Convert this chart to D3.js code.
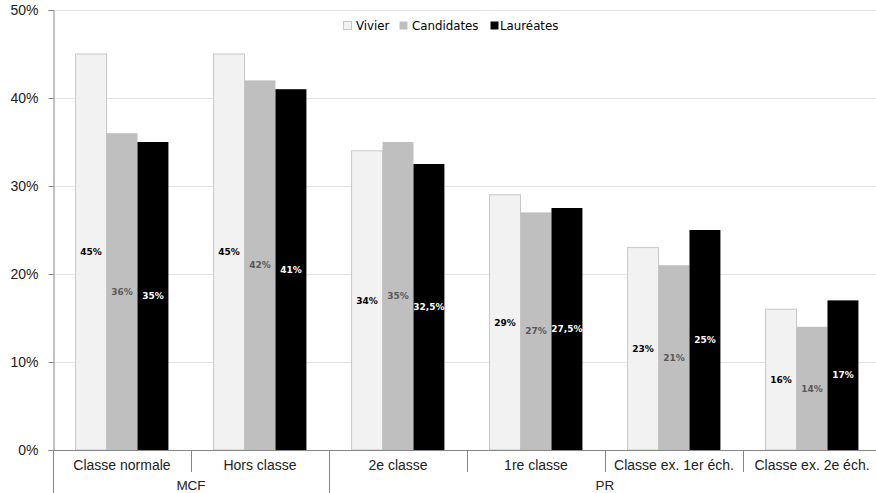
<!DOCTYPE html>
<html>
<head>
<meta charset="utf-8">
<script src="https://cdn.jsdelivr.net/npm/d3@7"></script>
<style>
  html, body { margin: 0; padding: 0; background: #fff; }
  svg { display: block; overflow: hidden; }
</style>
</head>
<body>
<script>
// Part of women among each grade: pool, applicants, and promoted
const categories = ["Classe normale", "Hors classe", "2e classe", "1re classe", "Classe ex. 1er éch.", "Classe ex. 2e éch."];
const groups = [
  { name: "MCF", from: 0, to: 2 },
  { name: "PR", from: 2, to: 6 }
];
const seriesNames = ["Vivier", "Candidates", "Lauréates"];
const vivier = [45, 45, 34, 29, 23, 16];
const candidates = [36, 42, 35, 27, 21, 14];
const laureates = [35, 41, 32.5, 27.5, 25, 17];
const valueLabels = [
  ["45%", "45%", "34%", "29%", "23%", "16%"],
  ["36%", "42%", "35%", "27%", "21%", "14%"],
  ["35%", "41%", "32,5%", "27,5%", "25%", "17%"]
];
const yTicks = [0, 10, 20, 30, 40, 50];

const seriesValues = [vivier, candidates, laureates];
const fills = ["#f2f2f2", "#bfbfbf", "#000000"];
const strokes = ["#c8c8c8", "none", "none"];
const labelColors = ["#000000", "#595959", "#ffffff"];

const W = 876, H = 493;
const plotLeft = 53, plotRight = 881, plotTop = 10, plotBottom = 450;

const svg = d3.select("body").append("svg").attr("width", W).attr("height", H);

const y = d3.scaleLinear().domain([0, 50]).range([plotBottom, plotTop]);
const x0 = d3.scaleBand().domain(categories).range([plotLeft, plotRight]).padding(0);
const x1 = d3.scaleBand().domain(seriesNames).range([0, x0.bandwidth()])
  .paddingInner(0).paddingOuter(0.73);

// horizontal gridlines
svg.append("g").selectAll("line").data(yTicks.filter(t => t > 0)).join("line")
  .attr("x1", plotLeft).attr("x2", W)
  .attr("y1", d => Math.round(y(d)) + 0.5).attr("y2", d => Math.round(y(d)) + 0.5)
  .attr("stroke", "#e3e3e3").attr("stroke-width", 1);

// bars
const bars = svg.append("g");
seriesValues.forEach((vals, si) => {
  bars.append("g").selectAll("rect").data(vals).join("rect")
    .attr("x", (d, i) => x0(categories[i]) + x1(seriesNames[si]))
    .attr("width", x1.bandwidth())
    .attr("y", d => y(d))
    .attr("height", d => y(0) - y(d))
    .attr("fill", fills[si])
    .attr("stroke", strokes[si])
    .attr("stroke-width", 1);
});

// value labels, centred in each bar
seriesValues.forEach((vals, si) => {
  svg.append("g").selectAll("text").data(vals).join("text")
    .attr("x", (d, i) => x0(categories[i]) + x1(seriesNames[si]) + x1.bandwidth() / 2)
    .attr("y", d => (y(d) + y(0)) / 2)
    .attr("dy", "0.35em")
    .attr("text-anchor", "middle")
    .attr("font-family", "DejaVu Sans, Verdana, sans-serif")
    .attr("font-weight", "bold")
    .attr("font-size", 9)
    .attr("fill", labelColors[si])
    .text((d, i) => valueLabels[si][i]);
});

// y axis
const yAxis = d3.axisLeft(y).tickValues(yTicks).tickFormat(d => d + "%").tickSize(5).tickPadding(10);
const gy = svg.append("g").attr("transform", `translate(${plotLeft + 0.5},0)`).call(yAxis);
gy.select(".domain").attr("stroke", "#868686");
gy.selectAll(".tick line").attr("stroke", "#868686");
gy.selectAll(".tick text").attr("font-family", "Liberation Sans, Arial, sans-serif")
  .attr("font-size", 14).attr("fill", "#222");

// x axis baseline
svg.append("line").attr("x1", plotLeft).attr("x2", W)
  .attr("y1", plotBottom + 0.5).attr("y2", plotBottom + 0.5).attr("stroke", "#868686");

// category separators
const boundaries = d3.range(categories.length + 1).map(i => plotLeft + i * x0.step());
const groupEdges = new Set(groups.flatMap(g => [g.from, g.to]));
svg.append("g").selectAll("line").data(boundaries).join("line")
  .attr("x1", d => Math.round(d) + 0.5).attr("x2", d => Math.round(d) + 0.5)
  .attr("y1", plotBottom)
  .attr("y2", (d, i) => groupEdges.has(i) ? H : plotBottom + 22)
  .attr("stroke", "#868686");

// category labels
svg.append("g").selectAll("text").data(categories).join("text")
  .attr("x", d => x0(d) + x0.bandwidth() / 2)
  .attr("y", plotBottom + 20)
  .attr("text-anchor", "middle")
  .attr("font-family", "Liberation Sans, Arial, sans-serif")
  .attr("font-size", 14)
  .attr("fill", "#222")
  .text(d => d);

// group labels
svg.append("g").selectAll("text").data(groups).join("text")
  .attr("x", g => (plotLeft + g.from * x0.step() + plotLeft + g.to * x0.step()) / 2)
  .attr("y", plotBottom + 40)
  .attr("text-anchor", "middle")
  .attr("font-family", "Liberation Sans, Arial, sans-serif")
  .attr("font-size", 13.5)
  .attr("fill", "#222")
  .text(g => g.name);

// legend
const legendX = [343, 399, 490];
const legend = svg.append("g");
seriesNames.forEach((s, i) => {
  legend.append("rect")
    .attr("x", legendX[i] + 0.5).attr("y", 21.5).attr("width", 8).attr("height", 8)
    .attr("fill", fills[i]).attr("stroke", i === 0 ? "#c8c8c8" : "none");
  legend.append("text")
    .attr("x", legendX[i] + (i === 2 ? 10 : 13)).attr("y", 30)
    .attr("font-family", "DejaVu Sans, Verdana, sans-serif")
    .attr("font-size", 11.8)
    .attr("fill", "#000")
    .text(s);
});
</script>
</body>
</html>
